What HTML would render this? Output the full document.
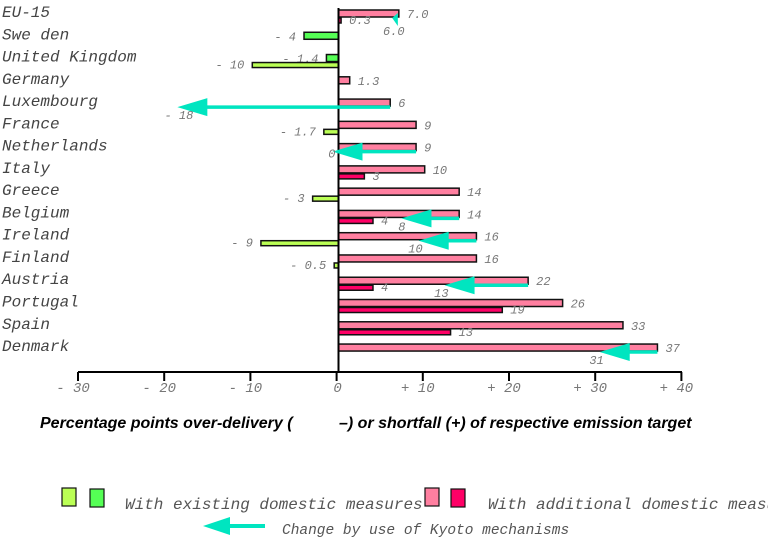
<!DOCTYPE html>
<html><head><style>
html,body{margin:0;padding:0;background:#fff;}
svg{display:block;}
.c{font-family:"Liberation Mono",monospace;font-style:italic;font-size:16px;fill:#444;}
.v{font-family:"Liberation Mono",monospace;font-style:italic;font-size:12px;fill:#777;}
.a{font-family:"Liberation Mono",monospace;font-style:italic;font-size:14px;fill:#777;}
.t{font-family:"Liberation Sans",sans-serif;font-style:italic;font-weight:bold;font-size:16px;fill:#000;}
.l{font-family:"Liberation Mono",monospace;font-style:italic;font-size:16px;fill:#555;}
.l2{font-family:"Liberation Mono",monospace;font-style:italic;font-size:14.5px;fill:#555;}
</style></head><body>
<svg width="768" height="537" viewBox="0 0 768 537" xmlns="http://www.w3.org/2000/svg">
<g id="chart"></g>
<script>
(function(){
var ns="http://www.w3.org/2000/svg",g=document.getElementById("chart");
function el(t,a,txt){var e=document.createElementNS(ns,t);for(var k in a)e.setAttribute(k,a[k]);if(txt!=null)e.textContent=txt;g.appendChild(e);return e;}
var z=338.5,k=8.62;function X(v){return z+v*k;}
var LP="#ff7fa0",DP="#ff0066",LG="#bbff55",DG="#55ff55",CY="#00e5c0";
var rows=[
["EU-15",[7.0,LP,"7.0"],[0.3,DP,"0.3"],[7,6,"6.0"]],
["Swe den",[-4,DG,"- 4"],null,null],
["United Kingdom",[-1.4,DG,"- 1.4"],[-10,LG,"- 10"],null],
["Germany",[1.3,LP,"1.3"],null,null],
["Luxembourg",[6,LP,"6"],null,[6,-18,"- 18"]],
["France",[9,LP,"9"],[-1.7,LG,"- 1.7"],null],
["Netherlands",[9,LP,"9"],null,[9,0,"0"]],
["Italy",[10,LP,"10"],[3,DP,"3"],null],
["Greece",[14,LP,"14"],[-3,LG,"- 3"],null],
["Belgium",[14,LP,"14"],[4,DP,"4"],[14,8,"8"]],
["Ireland",[16,LP,"16"],[-9,LG,"- 9"],[16,10,"10"]],
["Finland",[16,LP,"16"],[-0.5,LG,"- 0.5"],null],
["Austria",[22,LP,"22"],[4,DP,"4"],[22,13,"13"]],
["Portugal",[26,LP,"26"],[19,DP,"19"],null],
["Spain",[33,LP,"33"],[13,DP,"13"],null],
["Denmark",[37,LP,"37"],null,[37,31,"31"]]
];
function bar(b,y,h){var x0=X(0),x1=X(b[0]);var x=Math.min(x0,x1),w=Math.abs(x1-x0);
el("rect",{x:x,y:y,width:Math.max(w,2),height:h,fill:b[1],stroke:"#111","stroke-width":1.5});
var tx=b[0]>=0?x1+8:x1-8;el("text",{x:tx,y:y+h+1,"class":"v","text-anchor":b[0]>=0?"start":"end"},b[2]);}
var arrows=[];
rows.forEach(function(r,i){var yc=12+22.27*i;
el("text",{x:2,y:yc+5,"class":"c"},r[0]);
if(r[1])bar(r[1],yc-2,7);
if(r[2])bar(r[2],yc+6,5);
if(r[3])arrows.push([r[3],yc]);});
el("line",{x1:z,y1:8,x2:z,y2:372,stroke:"#000","stroke-width":2});
arrows.forEach(function(a){var d=a[0],yc=a[1],ay=yc+6;var tip=X(d[1])-6,st=X(d[0]);
if(d[0]-d[1]<2){el("polygon",{points:(X(7)-1)+","+(yc+1)+" "+(X(7)-1)+","+(yc+14)+" "+(X(6)+2)+","+(yc+6),fill:CY});
el("text",{x:383,y:35,"class":"v"},d[2]);return;}
el("line",{x1:tip+25,y1:ay,x2:st,y2:ay,stroke:CY,"stroke-width":3.5});
el("polygon",{points:tip+","+ay+" "+(tip+30)+","+(ay-9)+" "+(tip+30)+","+(ay+9),fill:CY});
var lx=d[1]==-18?X(-18)+10:(d[1]==0?X(0)-3:tip+4);
el("text",{x:lx,y:ay+(d[1]==0?6:12),"class":"v","text-anchor":"end"},d[2]);});
el("line",{x1:78,y1:372,x2:682,y2:372,stroke:"#000","stroke-width":2});
var labs=["- 30","- 20","- 10","0","+ 10","+ 20","+ 30","+ 40"];
for(var j=0;j<8;j++){var tx=78+86.2*j;el("line",{x1:tx,y1:372,x2:tx,y2:381,stroke:"#000","stroke-width":2});
el("text",{x:j==3?tx+1:tx-5,y:392,"class":"a","text-anchor":"middle"},labs[j]);}
el("text",{x:40,y:428,"class":"t"},"Percentage points over-delivery (");
el("text",{x:339,y:428,"class":"t"},"\u2013) or shortfall (+) of respective emission target");
el("rect",{x:62,y:488,width:14,height:18,fill:LG,stroke:"#111","stroke-width":1.2});
el("rect",{x:90,y:489,width:14,height:18,fill:DG,stroke:"#111","stroke-width":1.2});
el("text",{x:125,y:509,"class":"l"},"With existing domestic measures");
el("rect",{x:425,y:488,width:14,height:18,fill:LP,stroke:"#111","stroke-width":1.2});
el("rect",{x:451,y:489,width:14,height:18,fill:DP,stroke:"#111","stroke-width":1.2});
el("text",{x:488,y:509,"class":"l"},"With additional domestic measures");
el("line",{x1:225,y1:526,x2:265,y2:526,stroke:CY,"stroke-width":4});
el("polygon",{points:"203,526 230,517 230,535",fill:CY});
el("text",{x:282,y:534,"class":"l2"},"Change by use of Kyoto mechanisms");
})();
</script>
</svg>
</body></html>
